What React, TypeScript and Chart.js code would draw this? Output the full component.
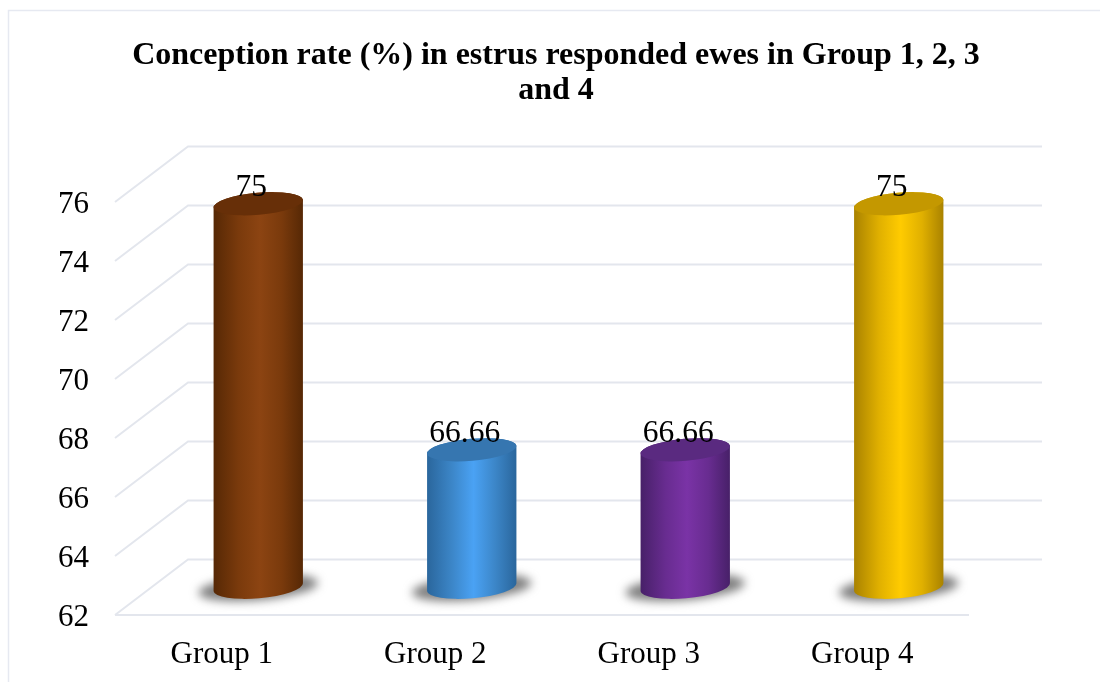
import React, { useEffect, useRef } from "react";
import { Chart, registerables, Plugin } from "chart.js";

Chart.register(...registerables);

const groups = ["Group 1", "Group 2", "Group 3", "Group 4"];
const conceptionRate = [75, 66.66, 66.66, 75];
const titleLines = [
  "Conception rate (%) in estrus responded ewes in Group 1, 2, 3",
  "and 4",
];

const faceBright = ["#8c4412", "#4aa2f4", "#7a33a6", "#ffcb00"];
const faceMid = ["#7a3a0c", "#3c86c8", "#682c90", "#e0b000"];
const faceDark = ["#562805", "#2a669c", "#472068", "#a98200"];
const capColor = ["#672f08", "#3676b0", "#5a2a80", "#c49800"];

const SERIF = '"Liberation Serif", "Times New Roman", serif';
const GRID = "#e3e6ed";
// Floor depth of the pseudo-3D box, in pixels.
const DEPTH_X = 73;
const DEPTH_Y = 55.5;
const TILT = (-5 * Math.PI) / 180;

const wallsPlugin: Plugin = {
  id: "walls",
  beforeDatasetsDraw(chart) {
    const { ctx, chartArea: area } = chart;
    const y = chart.scales.y;
    ctx.save();
    // Frame running off the top right of the page.
    ctx.strokeStyle = "#e6e9f1";
    ctx.lineWidth = 1.5;
    ctx.beginPath();
    ctx.moveTo(8.5, chart.height);
    ctx.lineTo(8.5, 10.5);
    ctx.lineTo(chart.width, 10.5);
    ctx.stroke();

    ctx.strokeStyle = GRID;
    ctx.lineWidth = 2;
    for (const tick of y.ticks) {
      const py = y.getPixelForValue(tick.value);
      ctx.beginPath();
      ctx.moveTo(area.left, py);
      ctx.lineTo(area.left + DEPTH_X, py - DEPTH_Y);
      ctx.lineTo(area.right + DEPTH_X, py - DEPTH_Y);
      ctx.stroke();
    }
    ctx.beginPath();
    ctx.moveTo(area.left, area.bottom);
    ctx.lineTo(area.right, area.bottom);
    ctx.stroke();
    ctx.restore();
  },
};

const cylindersPlugin: Plugin = {
  id: "cylinders",
  // The flat bars are replaced by shaded cylinders standing mid-way in the box.
  beforeDatasetDraw(chart, args) {
    const { ctx } = chart;
    const meta = chart.getDatasetMeta(args.index);
    const scale = chart.scales.y;
    const floor = scale.getPixelForValue(scale.min);
    meta.data.forEach((bar: any, i: number) => {
      const { x, y, width } = bar.getProps(["x", "y", "width"], true);
      const cx = x + DEPTH_X / 2;
      const top = y - DEPTH_Y / 2;
      const bottom = floor - DEPTH_Y / 2;
      const rx = width / 2;
      const ry = 11;

      ctx.save();
      ctx.filter = "blur(5px)";
      ctx.fillStyle = "rgba(105,105,105,0.85)";
      ctx.beginPath();
      ctx.ellipse(cx, bottom + 0.5, rx + 15, ry + 1.5, TILT, 0, Math.PI * 2);
      ctx.fill();
      ctx.restore();

      const shade = ctx.createLinearGradient(cx - rx, 0, cx + rx, 0);
      shade.addColorStop(0, faceDark[i]);
      shade.addColorStop(0.28, faceMid[i]);
      shade.addColorStop(0.52, faceBright[i]);
      shade.addColorStop(0.76, faceMid[i]);
      shade.addColorStop(1, faceDark[i]);

      ctx.save();
      ctx.fillStyle = shade;
      ctx.beginPath();
      ctx.ellipse(cx, bottom, rx, ry, TILT, 0, Math.PI);
      ctx.ellipse(cx, top, rx, ry, TILT, Math.PI, Math.PI * 2);
      ctx.closePath();
      ctx.fill();

      ctx.fillStyle = capColor[i];
      ctx.beginPath();
      ctx.ellipse(cx, top, rx, ry, TILT, 0, Math.PI * 2);
      ctx.fill();
      ctx.restore();
    });
    return false;
  },
  afterDatasetsDraw(chart) {
    const { ctx } = chart;
    const meta = chart.getDatasetMeta(0);
    ctx.save();
    ctx.font = `31.5px ${SERIF}`;
    ctx.fillStyle = "#000";
    ctx.textAlign = "center";
    ctx.textBaseline = "alphabetic";
    meta.data.forEach((bar: any, i: number) => {
      const { x, y } = bar.getProps(["x", "y"], true);
      ctx.fillText(String(conceptionRate[i]), x + DEPTH_X / 2 - 7, y - DEPTH_Y / 2 - 7.5);
    });
    ctx.restore();
  },
};

export default function App() {
  const canvasRef = useRef<HTMLCanvasElement>(null);

  useEffect(() => {
    const chart = new Chart(canvasRef.current!, {
      type: "bar",
      data: {
        labels: groups,
        datasets: [
          {
            data: conceptionRate,
            backgroundColor: faceBright,
            barPercentage: 0.42,
            categoryPercentage: 1,
          },
        ],
      },
      plugins: [wallsPlugin, cylindersPlugin],
      options: {
        responsive: false,
        animation: false,
        layout: { padding: { left: 12 } },
        plugins: {
          legend: { display: false },
          tooltip: { enabled: false },
          title: {
            display: true,
            text: titleLines,
            color: "#000",
            font: { family: SERIF, size: 32, weight: "bold", lineHeight: 35 / 32 },
            padding: { top: 38, bottom: 94 },
          },
        },
        scales: {
          x: {
            grid: { display: false },
            border: { display: false },
            ticks: { color: "#000", padding: 13, font: { family: SERIF, size: 31 } },
            afterFit: (scale: any) => {
              scale.height = 67;
            },
          },
          y: {
            min: 62,
            max: 76,
            grid: { display: false },
            border: { display: false },
            ticks: {
              stepSize: 2,
              color: "#000",
              padding: 18,
              labelOffset: 2.5,
              font: { family: SERIF, size: 31 },
            },
            afterFit: (scale: any) => {
              scale.width = 103;
            },
          },
          // Empty axis that reserves the space taken by the box depth on the right.
          depth: {
            axis: "y",
            position: "right",
            grid: { display: false },
            border: { display: false },
            ticks: { display: false },
            afterFit: (scale: any) => {
              scale.width = 131;
            },
          },
        },
      },
    } as any);
    return () => chart.destroy();
  }, []);

  return (
    <canvas
      ref={canvasRef}
      width={1100}
      height={682}
      style={{ position: "absolute", left: 0, top: 0, display: "block", width: 1100, height: 682, background: "#fff" }}
    />
  );
}
